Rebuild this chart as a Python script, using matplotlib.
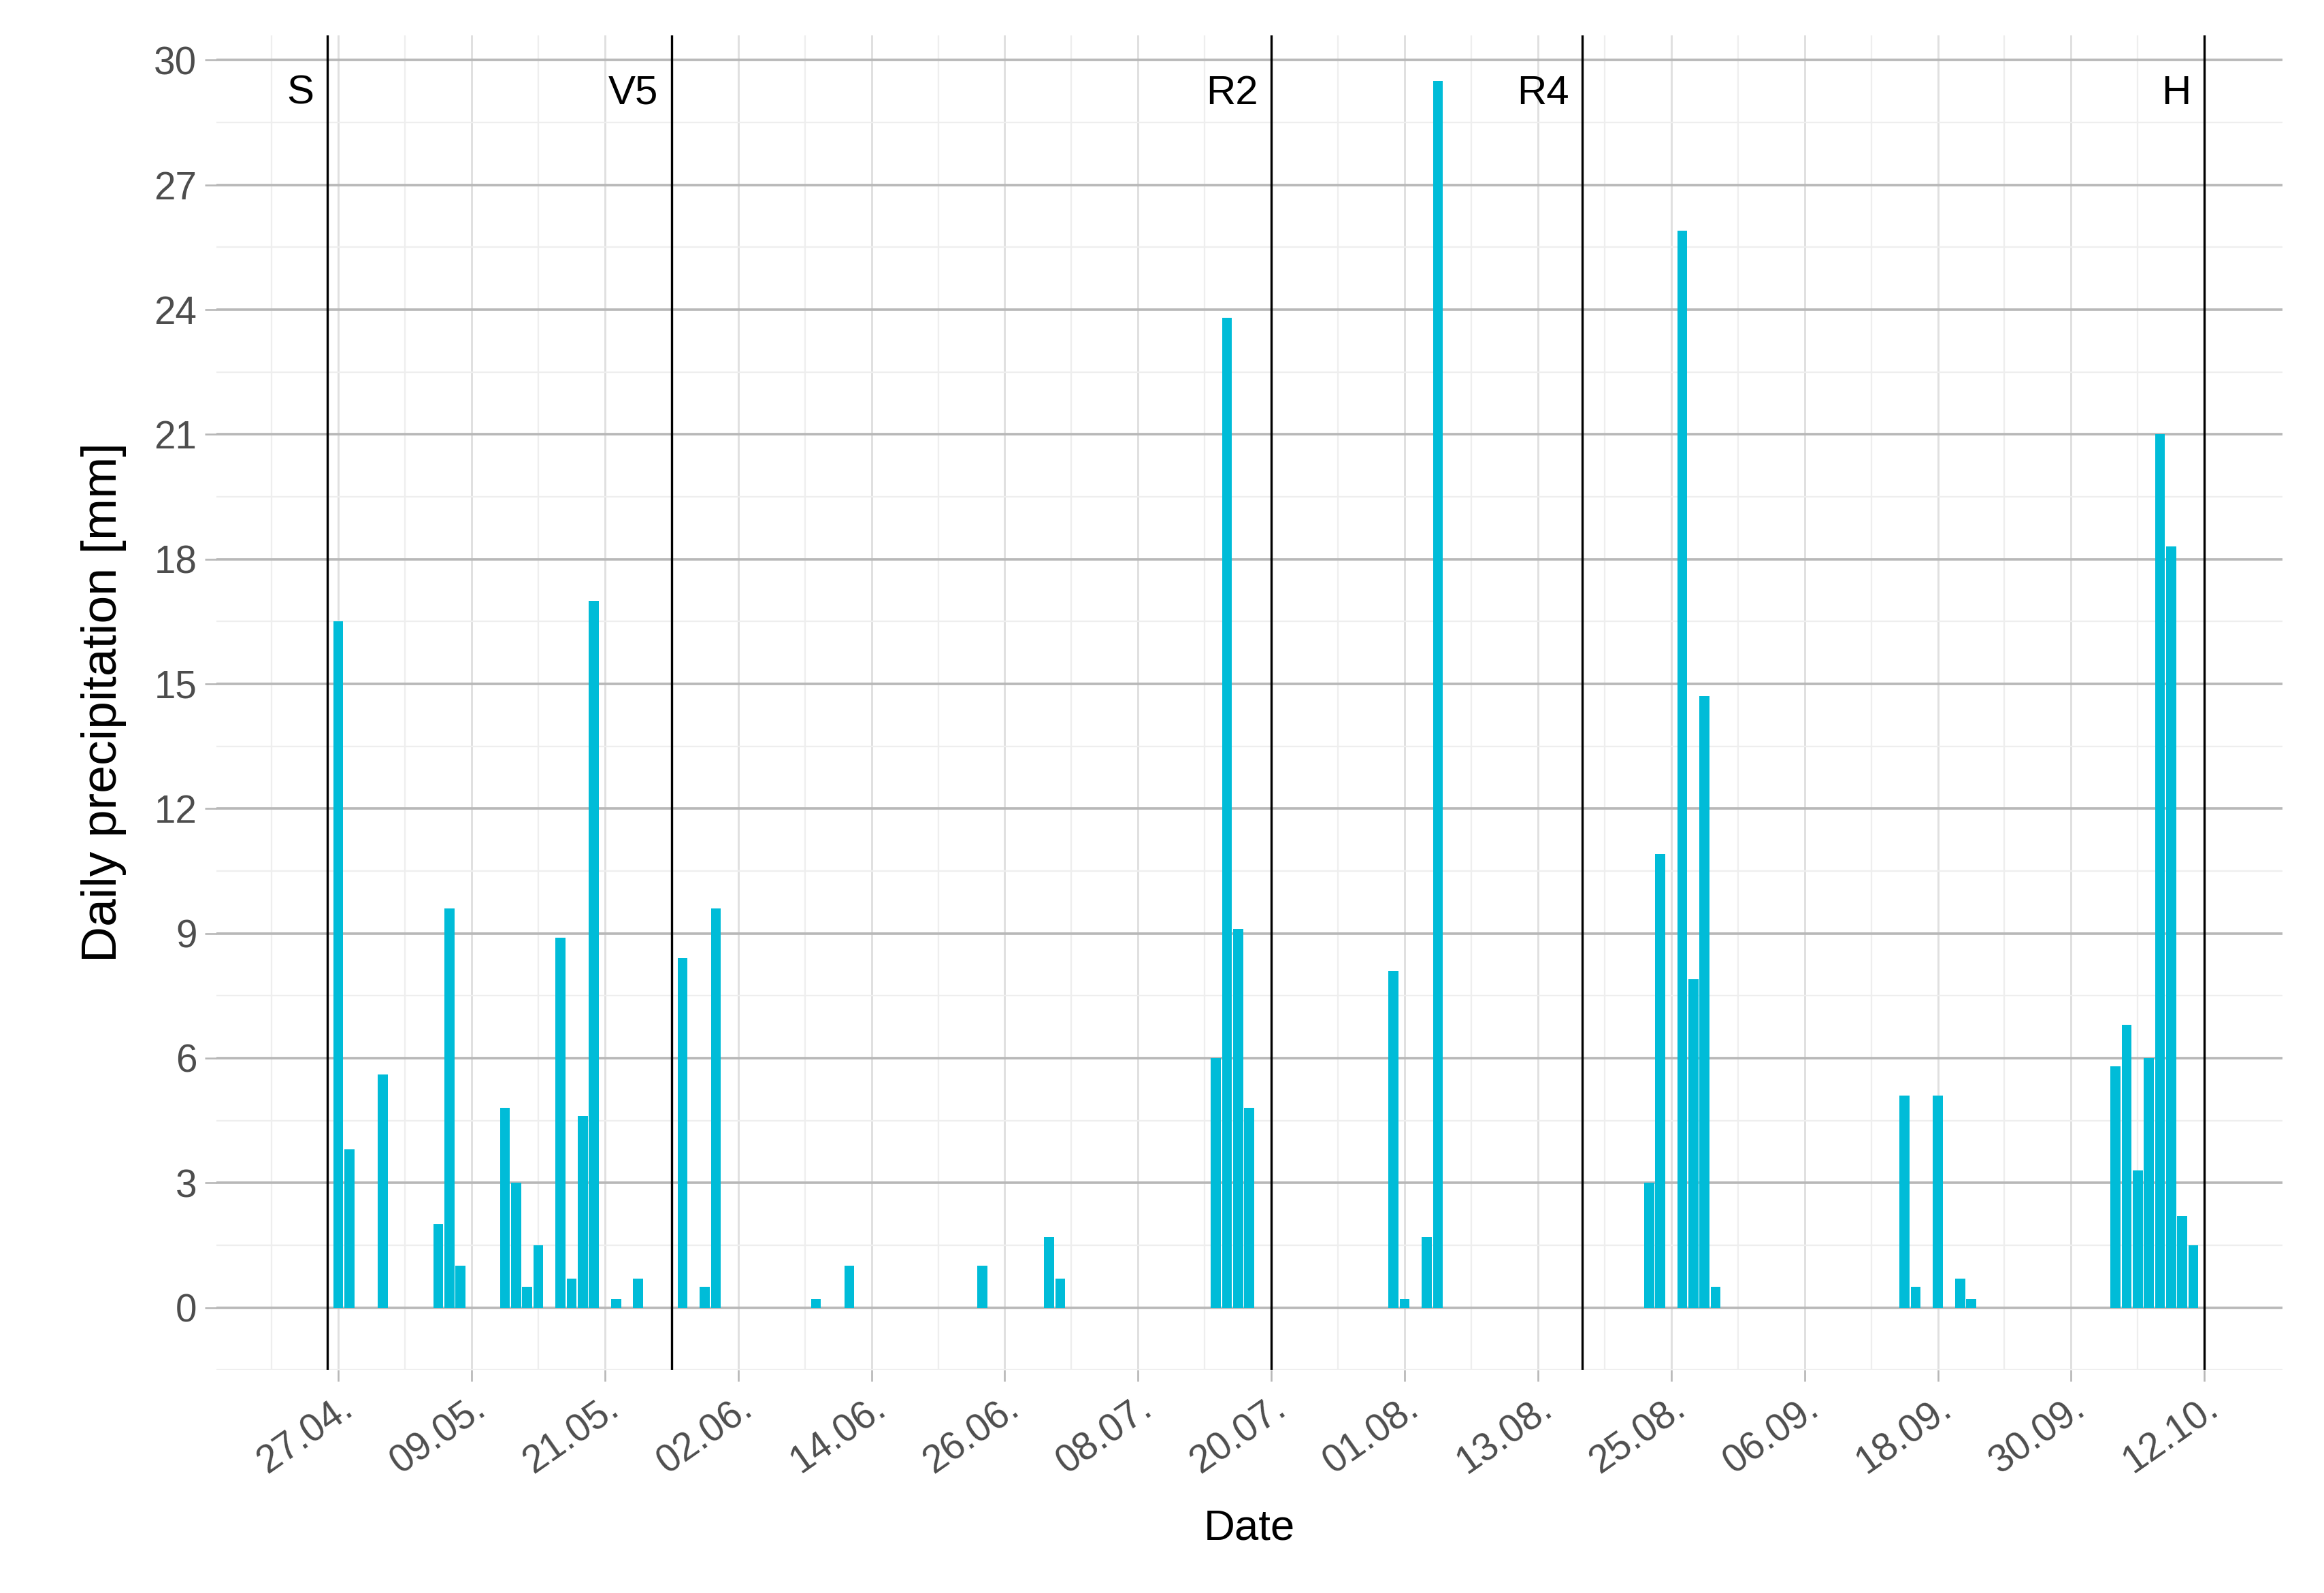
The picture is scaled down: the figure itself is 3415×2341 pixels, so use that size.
import datetime as dt

import matplotlib.pyplot as plt
from matplotlib.ticker import MultipleLocator

plt.rcParams["font.family"] = ["Liberation Sans", "DejaVu Sans"]

YEAR = 2019

# daily precipitation (date dd.mm, mm)
rain_dates = [
    "27.04", "28.04", "01.05", "06.05", "07.05", "08.05", "12.05", "13.05", "14.05", "15.05",
    "17.05", "18.05", "19.05", "20.05", "22.05", "24.05", "28.05", "30.05", "31.05",
    "09.06", "12.06", "24.06", "30.06", "01.07", "15.07", "16.07", "17.07", "18.07",
    "31.07", "01.08", "03.08", "04.08", "23.08", "24.08", "26.08", "27.08", "28.08", "29.08",
    "15.09", "16.09", "18.09", "20.09", "21.09",
    "04.10", "05.10", "06.10", "07.10", "08.10", "09.10", "10.10", "11.10",
]
rain_mm = [
    16.5, 3.8, 5.6, 2.0, 9.6, 1.0, 4.8, 3.0, 0.5, 1.5,
    8.9, 0.7, 4.6, 17.0, 0.2, 0.7, 8.4, 0.5, 9.6,
    0.2, 1.0, 1.0, 1.7, 0.7, 6.0, 23.8, 9.1, 4.8,
    8.1, 0.2, 1.7, 29.5, 3.0, 10.9, 25.9, 7.9, 14.7, 0.5,
    5.1, 0.5, 5.1, 0.7, 0.2,
    5.8, 6.8, 3.3, 6.0, 21.0, 18.3, 2.2, 1.5,
]

# growth stages
stage_dates = ["26.04", "27.05", "20.07", "17.08", "12.10"]
stage_labels = ["S", "V5", "R2", "R4", "H"]

tick_dates = ["27.04", "09.05", "21.05", "02.06", "14.06", "26.06", "08.07", "20.07",
              "01.08", "13.08", "25.08", "06.09", "18.09", "30.09", "12.10"]


def to_date(s):
    d, m = s.split(".")
    return dt.datetime(YEAR, int(m), int(d))


x = [to_date(s) for s in rain_dates]

fig = plt.figure(figsize=(3415 / 240, 2341 / 240), dpi=240)
ax = fig.add_axes([0.093, 0.14, 0.889, 0.838])

ax.bar(x, rain_mm, width=0.9, color="#00BCD8", zorder=3)

for s, lab in zip(stage_dates, stage_labels):
    d = to_date(s)
    ax.axvline(d, color="black", lw=1.0, zorder=4)
    ax.text(d - dt.timedelta(days=1.2), 29.2, lab, ha="right", va="center",
            fontsize=18, zorder=5)

ax.set_xlim(to_date("16.04"), to_date("19.10"))
ax.set_ylim(-1.5, 30.6)
ax.yaxis.set_major_locator(MultipleLocator(3))
ax.yaxis.set_minor_locator(MultipleLocator(1.5))
ticks = [to_date(s) for s in tick_dates]
ax.set_xticks(ticks)
ax.set_xticklabels([s + "." for s in tick_dates], rotation=35, ha="right",
                   rotation_mode="anchor")
minor = [t + dt.timedelta(days=6) for t in ticks[:-1]] + [ticks[0] - dt.timedelta(days=6)]
ax.set_xticks(minor, minor=True)

ax.grid(which="major", axis="y", color="#b8b8b8", lw=1.1, zorder=0)
ax.grid(which="major", axis="x", color="#e0e0e0", lw=0.9, zorder=0)
ax.grid(which="minor", color="#eeeeee", lw=0.7, zorder=0)
for sp in ax.spines.values():
    sp.set_visible(False)
ax.tick_params(which="major", length=5, color="#b8b8b8", labelsize=17, labelcolor="#4d4d4d")
ax.tick_params(which="minor", length=0)

ax.set_xlabel("Date", fontsize=19, labelpad=12)
ax.set_ylabel("Daily precipitation [mm]", fontsize=22, labelpad=12)

fig.savefig("out.png", dpi=240)
